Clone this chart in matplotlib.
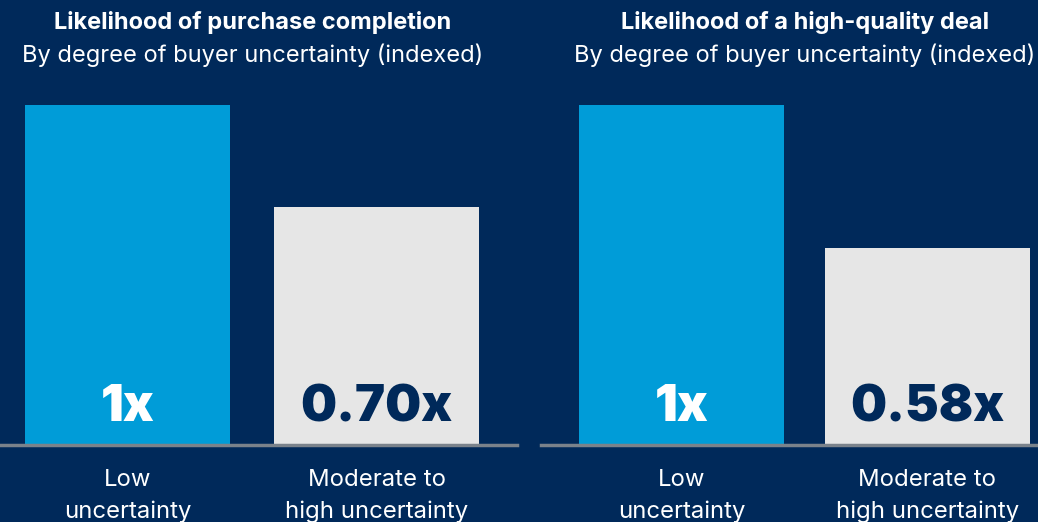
import matplotlib.pyplot as plt

# DATA
titles = ["Likelihood of purchase completion", "Likelihood of a high-quality deal"]
subtitle = "By degree of buyer uncertainty (indexed)"
categories = ["Low\nuncertainty", "Moderate to\nhigh uncertainty"]
values_left = [1.0, 0.70]
values_right = [1.0, 0.58]
labels_left = ["1x", "0.70x"]
labels_right = ["1x", "0.58x"]

# STYLE
NAVY = "#00295A"
BLUE = "#009CD8"
GREY = "#E6E6E6"
LINE = "#7A828B"
plt.rcParams["font.family"] = ["Inter", "DejaVu Sans"]

fig = plt.figure(figsize=(10.38, 5.22), dpi=100, facecolor=NAVY)

W, H = 1038, 522
base_px = 445
top_px = 105


def panel(x0, x1, c0, spacing, values, labels, title, xt):
    ax = fig.add_axes([x0 / W, (H - base_px) / H, (x1 - x0) / W,
                       (base_px - top_px) / H])
    ax.set_facecolor(NAVY)
    ax.set_xlim(-(c0 - x0) / spacing, -(c0 - x0) / spacing + (x1 - x0) / spacing)
    ax.set_ylim(0, 1)
    ax.bar([0, 1], values, width=205 / spacing, color=[BLUE, GREY])
    ax.axhline(0, color=LINE, lw=2.5, clip_on=False)
    for i, (v, lab) in enumerate(zip(values, labels)):
        ax.text(i, 0.11, lab, ha="center", va="center", fontsize=36.5,
                fontweight="black", color="white" if i == 0 else NAVY)
        ax.text(i, -0.15, categories[i], ha="center", va="center",
                fontsize=17.2, color="white", linespacing=1.5)
    for s in ax.spines.values():
        s.set_visible(False)
    ax.set_xticks([])
    ax.set_yticks([])
    fig.text(xt / W, 1 - 22 / H, title, ha="center", va="center",
             fontsize=17, fontweight="bold", color="white")
    fig.text(xt / W, 1 - 55 / H, subtitle, ha="center", va="center",
             fontsize=17, color="white")
    return ax


panel(0, 517, 127.5, 249, values_left, labels_left, titles[0], 253)
panel(541, 1038, 681.5, 246, values_right, labels_right, titles[1], 805)

fig.savefig("out.png", dpi=100, facecolor=NAVY)
